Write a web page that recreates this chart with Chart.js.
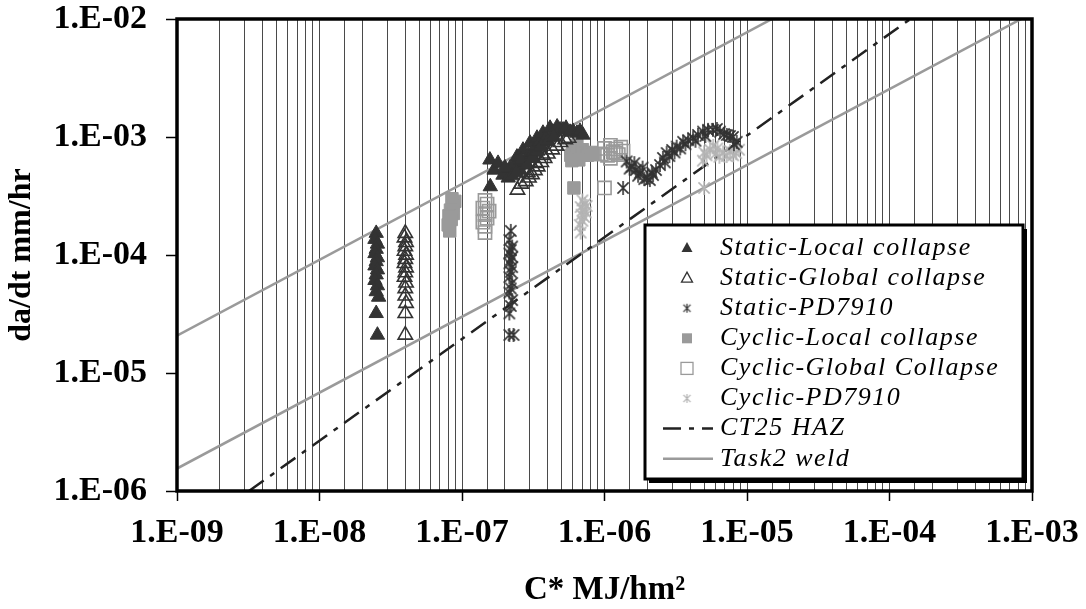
<!DOCTYPE html>
<html>
<head>
<meta charset="utf-8">
<script src="https://cdn.jsdelivr.net/npm/chart.js@4.4.0/dist/chart.umd.min.js"></script>
<style>
  html, body { margin: 0; padding: 0; background: #fff; }
</style>
</head>
<body>
<canvas id="myChart" width="1086" height="609"></canvas>
<script>

// series names, in legend order
const seriesNames = ['Static-Local collapse', 'Static-Global collapse', 'Static-PD7910',
  'Cyclic-Local collapse', 'Cyclic-Global Collapse', 'Cyclic-PD7910', 'CT25 HAZ', 'Task2 weld'];

// tick labels for the decades
const xTickLabels = ['1.E-09', '1.E-08', '1.E-07', '1.E-06', '1.E-05', '1.E-04', '1.E-03'];
const yTickLabels = ['1.E-06', '1.E-05', '1.E-04', '1.E-03', '1.E-02'];

// [C*, da/dt] pairs
const staticLocal = [
  [2.5e-8, 1.53e-4], [2.45e-8, 1.36e-4], [2.55e-8, 1.24e-4], [2.5e-8, 1.12e-4], [2.45e-8, 1.03e-4],
  [2.55e-8, 9.5e-5], [2.5e-8, 8.8e-5], [2.45e-8, 8.1e-5], [2.55e-8, 7.5e-5], [2.5e-8, 6.8e-5],
  [2.45e-8, 6.1e-5], [2.55e-8, 5.5e-5], [2.5e-8, 4.9e-5], [2.6e-8, 4.4e-5], [2.5e-8, 3.2e-5], [2.55e-8, 2.1e-5],
  [1.58e-7, 3.8e-4],
  [1.57e-7, 6.4e-4], [1.68e-7, 5.25e-4], [1.79e-7, 6.0e-4], [1.94e-7, 4.76e-4], [2.11e-7, 4.5e-4],
  [2.17e-7, 5.46e-4], [2.32e-7, 5.79e-4], [2.43e-7, 6.78e-4], [2.55e-7, 5.25e-4], [2.68e-7, 7.76e-4],
  [2.77e-7, 6.14e-4], [2.91e-7, 7.0e-4], [3.0e-7, 8.9e-4], [3.15e-7, 7.46e-4], [3.3e-7, 8.4e-4],
  [3.36e-7, 9.8e-4], [3.52e-7, 9.08e-4], [3.7e-7, 1.08e-3], [3.88e-7, 9.8e-4], [4.15e-7, 1.19e-3],
  [4.35e-7, 1.1e-3], [4.65e-7, 1.22e-3], [4.88e-7, 1.15e-3], [5.12e-7, 1.15e-3], [5.37e-7, 1.19e-3],
  [5.73e-7, 1.1e-3], [6.01e-7, 1.12e-3], [6.41e-7, 1.08e-3], [6.73e-7, 1.12e-3], [7.06e-7, 1.04e-3],
  [2.0e-7, 5.5e-4], [2.25e-7, 4.7e-4], [2.4e-7, 5.0e-4], [2.6e-7, 6.4e-4], [2.85e-7, 5.8e-4],
  [3.1e-7, 6.6e-4], [3.4e-7, 7.6e-4], [3.6e-7, 8.3e-4], [4.0e-7, 9.2e-4], [4.4e-7, 1.0e-3]
];
const staticGlobal = [
  [4.0e-8, 1.53e-4], [3.95e-8, 1.4e-4], [4.05e-8, 1.28e-4], [4.0e-8, 1.18e-4], [3.95e-8, 1.08e-4],
  [4.05e-8, 1.0e-4], [4.0e-8, 9.2e-5], [3.95e-8, 8.5e-5], [4.05e-8, 7.8e-5], [4.0e-8, 7.1e-5],
  [3.95e-8, 6.5e-5], [4.05e-8, 5.8e-5], [4.0e-8, 5.2e-5], [4.0e-8, 4.5e-5], [4.05e-8, 3.9e-5],
  [4.0e-8, 3.2e-5], [4.0e-8, 2.1e-5],
  [2.45e-7, 3.56e-4], [2.6e-7, 4.0e-4], [2.8e-7, 4.2e-4], [2.95e-7, 4.5e-4], [3.1e-7, 4.8e-4],
  [3.25e-7, 5.2e-4], [3.4e-7, 5.6e-4], [3.6e-7, 6.1e-4], [3.8e-7, 6.6e-4], [4.0e-7, 7.2e-4],
  [4.3e-7, 7.8e-4], [4.6e-7, 8.4e-4], [4.9e-7, 9.0e-4], [5.3e-7, 9.5e-4], [5.6e-7, 9.8e-4],
  [2.9e-7, 5.0e-4], [3.3e-7, 6.0e-4], [3.7e-7, 7.0e-4]
];
const staticPD = [
  [2.2e-7, 1.6e-4], [2.15e-7, 1.34e-4], [2.25e-7, 1.18e-4], [2.2e-7, 1.1e-4], [2.15e-7, 1.03e-4],
  [2.25e-7, 9.6e-5], [2.2e-7, 9.1e-5], [2.15e-7, 8.5e-5], [2.25e-7, 7.9e-5], [2.2e-7, 7.2e-5],
  [2.15e-7, 6.5e-5], [2.25e-7, 5.8e-5], [2.2e-7, 5.2e-5], [2.15e-7, 4.8e-5], [2.25e-7, 4.15e-5],
  [2.2e-7, 3.7e-5], [2.15e-7, 3.2e-5], [2.15e-7, 2.1e-5], [2.3e-7, 2.1e-5],
  [1.35e-6, 3.7e-4],
  [1.43e-6, 6.2e-4], [1.5e-6, 5.4e-4], [1.55e-6, 5.6e-4], [1.62e-6, 6.0e-4], [1.66e-6, 5.25e-4],
  [1.72e-6, 4.7e-4], [1.77e-6, 4.95e-4], [1.85e-6, 5.5e-4], [1.9e-6, 4.4e-4], [1.98e-6, 4.5e-4],
  [2.08e-6, 4.32e-4], [2.15e-6, 5.0e-4], [2.19e-6, 4.76e-4], [2.3e-6, 5.25e-4], [2.45e-6, 5.79e-4],
  [2.57e-6, 6.64e-4], [2.65e-6, 6.1e-4], [2.73e-6, 7.31e-4], [2.85e-6, 6.9e-4], [2.98e-6, 7.76e-4],
  [3.1e-6, 7.4e-4], [3.21e-6, 8.28e-4], [3.4e-6, 8.0e-4], [3.56e-6, 9.1e-4], [3.7e-6, 8.7e-4],
  [3.86e-6, 9.4e-4], [4.18e-6, 9.8e-4], [4.35e-6, 9.3e-4], [4.53e-6, 1.04e-3], [4.91e-6, 1.11e-3],
  [5.1e-6, 1.02e-3], [5.33e-6, 1.15e-3], [5.77e-6, 1.15e-3], [6.15e-6, 1.17e-3], [6.47e-6, 1.11e-3],
  [6.9e-6, 1.06e-3], [7.21e-6, 1.04e-3], [7.6e-6, 1.02e-3], [7.97e-6, 1.0e-3], [8.47e-6, 9.1e-4],
  [8.1e-6, 8.7e-4]
];
const cyclicLocal = [
  [8.5e-8, 3.0e-4], [8.9e-8, 2.85e-4], [8.6e-8, 2.6e-4], [8.3e-8, 2.4e-4], [8.7e-8, 2.25e-4],
  [8.1e-8, 2.15e-4], [8.4e-8, 2.0e-4], [8.0e-8, 1.8e-4], [8.2e-8, 1.6e-4],
  [5.8e-7, 7.0e-4], [6.0e-7, 7.6e-4], [6.2e-7, 6.6e-4], [6.4e-7, 8.5e-4], [6.5e-7, 7.2e-4],
  [6.8e-7, 7.0e-4], [7.0e-7, 7.8e-4], [7.3e-7, 7.3e-4], [7.6e-7, 7.0e-4], [8.0e-7, 7.4e-4],
  [8.4e-7, 7.1e-4], [5.9e-7, 6.3e-4], [6.6e-7, 6.4e-4],
  [6.1e-7, 3.7e-4]
];
const cyclicGlobal = [
  [1.45e-7, 2.9e-4], [1.5e-7, 2.7e-4], [1.4e-7, 2.5e-4], [1.55e-7, 2.35e-4], [1.45e-7, 2.2e-4],
  [1.5e-7, 2.05e-4], [1.4e-7, 1.9e-4], [1.45e-7, 1.75e-4], [1.45e-7, 1.55e-4],
  [9.5e-7, 7.2e-4], [1.0e-6, 8.0e-4], [1.05e-6, 7.0e-4], [1.1e-6, 8.5e-4], [1.15e-6, 7.5e-4],
  [1.2e-6, 7.9e-4], [1.25e-6, 7.1e-4], [1.3e-6, 8.2e-4], [1.1e-6, 6.6e-4], [1.2e-6, 7.3e-4],
  [1.35e-6, 7.6e-4],
  [1.0e-6, 3.7e-4]
];
const cyclicPD = [
  [7.0e-7, 2.9e-4], [7.3e-7, 2.7e-4], [6.8e-7, 2.55e-4], [7.1e-7, 2.4e-4], [7.4e-7, 2.3e-4],
  [6.9e-7, 2.2e-4], [7.2e-7, 2.1e-4], [7.0e-7, 1.95e-4], [6.7e-7, 1.8e-4], [6.8e-7, 1.55e-4],
  [7.5e-7, 2.6e-4],
  [4.9e-6, 6.3e-4], [5.2e-6, 7.0e-4], [5.5e-6, 7.8e-4], [5.8e-6, 8.4e-4], [6.0e-6, 7.2e-4],
  [6.4e-6, 6.8e-4], [6.8e-6, 7.4e-4], [7.2e-6, 6.9e-4], [7.6e-6, 7.6e-4], [8.0e-6, 7.0e-4],
  [8.4e-6, 7.3e-4], [8.8e-6, 7.8e-4], [6.2e-6, 8.0e-4], [5.0e-6, 7.4e-4],
  [5.0e-6, 3.7e-4]
];
// trend lines (end points)
const ct25Haz = [[3.2e-9, 1e-6], [1.4e-4, 1e-2]];
const task2Upper = [[1e-9, 2.07e-5], [1e-3, 0.149]];
const task2Lower = [[1e-9, 1.55e-6], [1e-3, 1.12e-2]];

const dark = '#333333';
const gray = '#9a9a9a';
const light = '#b4b4b4';
const serif = "'Liberation Serif', 'Times New Roman', serif";

const toPts = arr => arr.map(p => ({ x: p[0], y: p[1] }));

function isDecade(v) {
  const e = Math.log10(v);
  return Math.abs(e - Math.round(e)) < 1e-6;
}

// excel style asterisk marker: an X with a vertical bar
function makeAsterisk(color, size, lw) {
  const c = document.createElement('canvas');
  c.width = size; c.height = size;
  const g = c.getContext('2d');
  const m = size / 2, r = size / 2 - 1, d = r * 0.8;
  g.strokeStyle = color; g.lineWidth = lw;
  g.beginPath();
  g.moveTo(m - d, m - d); g.lineTo(m + d, m + d);
  g.moveTo(m + d, m - d); g.lineTo(m - d, m + d);
  g.moveTo(m, m - r); g.lineTo(m, m + r);
  g.stroke();
  return c;
}
const starDark = makeAsterisk(dark, 16, 1.6);
const starLight = makeAsterisk(light, 16, 1.6);

const ctx = document.getElementById('myChart');

// black frame around the plot area
const framePlugin = {
  id: 'frame',
  afterDatasetsDraw(chart) {
    const { ctx, chartArea: a } = chart;
    ctx.save();
    ctx.strokeStyle = '#000';
    ctx.lineWidth = 3.5;
    ctx.strokeRect(a.left, a.top, a.right - a.left, a.bottom - a.top);
    ctx.restore();
  }
};

// boxed legend with a shadow, inside the plot
const boxLegend = {
  id: 'boxLegend',
  afterDraw(chart) {
    const c = chart.ctx;
    const bx = 645, by = 225, bw = 378, bh = 254;
    c.save();
    c.fillStyle = '#000';
    c.fillRect(bx + 4, by + 4, bw, bh);
    c.fillStyle = '#fff';
    c.fillRect(bx, by, bw, bh);
    c.strokeStyle = '#000';
    c.lineWidth = 3;
    c.strokeRect(bx, by, bw, bh);

    const mx = 687, tx = 720, y0 = 248, dy = 30.1;
    for (let i = 0; i < seriesNames.length; i++) {
      const y = y0 + i * dy;
      c.save();
      if (i === 0 || i === 1) {
        c.beginPath();
        c.moveTo(mx, y - 6); c.lineTo(mx + 5.5, y + 4); c.lineTo(mx - 5.5, y + 4); c.closePath();
        if (i === 0) { c.fillStyle = dark; c.fill(); }
        else { c.strokeStyle = dark; c.lineWidth = 1.3; c.stroke(); }
      } else if (i === 2) {
        c.drawImage(makeAsterisk(dark, 11, 1.2), mx - 5.5, y - 5.5);
      } else if (i === 3) {
        c.fillStyle = gray; c.fillRect(mx - 5, y - 5, 10, 10);
      } else if (i === 4) {
        c.strokeStyle = gray; c.lineWidth = 1.3; c.strokeRect(mx - 6, y - 6, 12, 12);
      } else if (i === 5) {
        c.drawImage(makeAsterisk(light, 11, 1.2), mx - 5.5, y - 5.5);
      } else if (i === 6) {
        c.strokeStyle = '#222'; c.lineWidth = 2.5;
        c.setLineDash([18, 8, 5, 8]);
        c.beginPath(); c.moveTo(663, y); c.lineTo(713, y); c.stroke();
      } else {
        c.strokeStyle = gray; c.lineWidth = 2.5;
        c.beginPath(); c.moveTo(663, y); c.lineTo(713, y); c.stroke();
      }
      c.restore();
      c.fillStyle = '#000';
      c.font = 'italic 26px ' + serif;
      c.textBaseline = 'middle';
      c.textAlign = 'left';
      c.letterSpacing = '1.5px';
      c.fillText(seriesNames[i], tx, y);
      c.letterSpacing = '0px';
    }
    c.restore();
  }
};

const config = {
  type: 'scatter',
  data: {
    datasets: [
      { label: seriesNames[0], data: toPts(staticLocal), pointStyle: 'triangle', pointRadius: 8.3,
        backgroundColor: dark, borderColor: dark, borderWidth: 1 },
      { label: seriesNames[1], data: toPts(staticGlobal), pointStyle: 'triangle', pointRadius: 8.3,
        backgroundColor: 'rgba(0,0,0,0)', borderColor: dark, borderWidth: 1.6 },
      { label: seriesNames[2], data: toPts(staticPD), pointStyle: starDark, pointRadius: 8 },
      { label: seriesNames[3], data: toPts(cyclicLocal), pointStyle: 'rect', pointRadius: 8.8,
        backgroundColor: gray, borderColor: gray, borderWidth: 1 },
      { label: seriesNames[4], data: toPts(cyclicGlobal), pointStyle: 'rect', pointRadius: 9.3,
        backgroundColor: 'rgba(0,0,0,0)', borderColor: gray, borderWidth: 1.6 },
      { label: seriesNames[5], data: toPts(cyclicPD), pointStyle: starLight, pointRadius: 8 },
      { label: seriesNames[6], data: toPts(ct25Haz), showLine: true, pointRadius: 0,
        borderColor: '#222', borderWidth: 2.5, borderDash: [18, 8, 5, 8] },
      { label: seriesNames[7], data: toPts(task2Upper), showLine: true, pointRadius: 0,
        borderColor: gray, borderWidth: 2.5 },
      { label: seriesNames[7], data: toPts(task2Lower), showLine: true, pointRadius: 0,
        borderColor: gray, borderWidth: 2.5 }
    ]
  },
  options: {
    responsive: false,
    animation: false,
    devicePixelRatio: 1,
    layout: { padding: 0 },
    plugins: {
      legend: { display: false },
      tooltip: { enabled: false }
    },
    scales: {
      x: {
        type: 'logarithmic',
        min: 1e-9,
        max: 1e-3,
        afterFit: s => { s.height = 118; s.paddingLeft = 0; s.paddingRight = 54; },
        border: { display: false },
        grid: {
          color: '#4a4a4a',
          lineWidth: 1,
          drawTicks: true,
          tickLength: 10,
          tickWidth: 1.5,
          tickColor: c => isDecade(c.tick.value) ? '#000' : 'rgba(0,0,0,0)'
        },
        ticks: {
          autoSkip: false,
          maxRotation: 0,
          padding: 12,
          color: '#000',
          font: { family: serif, size: 34, weight: 'bold' },
          callback: v => isDecade(v) ? xTickLabels[Math.round(Math.log10(v)) + 9] : ''
        },
        title: {
          display: true,
          text: 'C* MJ/hm²',
          color: '#000',
          font: { family: serif, size: 33, weight: 'bold', lineHeight: 1 },
          padding: { top: 0, bottom: 2 }
        }
      },
      y: {
        type: 'logarithmic',
        min: 1e-6,
        max: 1e-2,
        afterFit: s => { s.width = 177; s.paddingTop = 19; s.paddingBottom = 0; },
        border: { display: false },
        grid: {
          drawOnChartArea: false,
          drawTicks: true,
          tickLength: 11,
          tickWidth: 1.5,
          tickColor: c => isDecade(c.tick.value) ? '#000' : 'rgba(0,0,0,0)'
        },
        ticks: {
          autoSkip: false,
          padding: 19,
          color: '#000',
          font: { family: serif, size: 34, weight: 'bold' },
          callback: v => isDecade(v) ? yTickLabels[Math.round(Math.log10(v)) + 6] : ''
        },
        title: {
          display: true,
          text: 'da/dt mm/hr',
          color: '#000',
          font: { family: serif, size: 32, weight: 'bold', lineHeight: 1 },
          padding: { top: 6, bottom: 0 }
        }
      }
    }
  },
  plugins: [framePlugin, boxLegend]
};

new Chart(ctx, config);
</script>
</body>
</html>
